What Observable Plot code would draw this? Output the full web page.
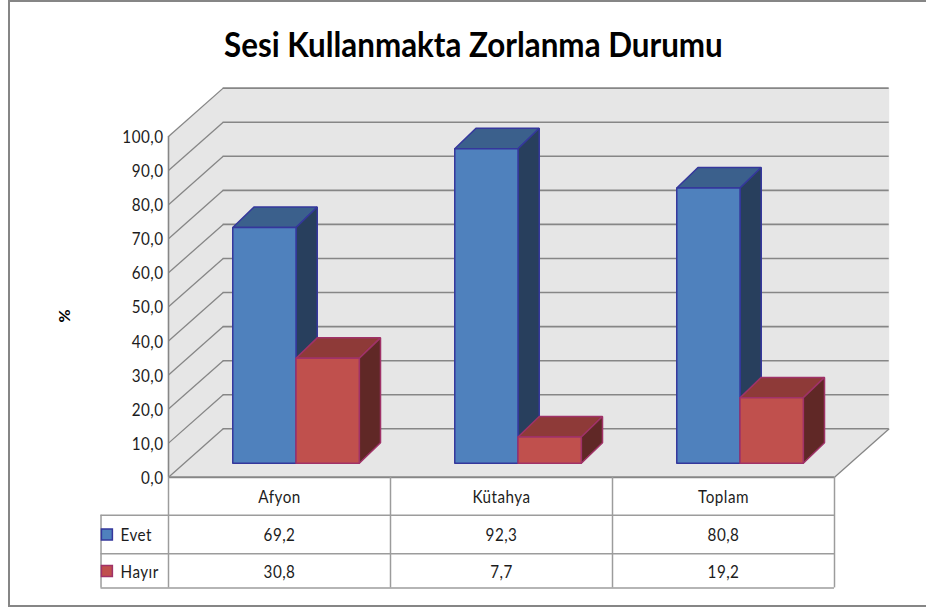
<!DOCTYPE html>
<html lang="tr">
<head>
<meta charset="utf-8">
<script src="https://cdn.jsdelivr.net/npm/d3@7"></script>
<script src="https://cdn.jsdelivr.net/npm/@observablehq/plot@0.6"></script>
<style>
  html, body { margin: 0; padding: 0; background: #fff; }
  #frame { position: absolute; left: 8px; top: 0; width: 918px; height: 607px;
           border-top: 2px solid #868686; border-left: 2px solid #868686; border-bottom: 2px solid #868686; box-sizing: border-box; }
  #title { position: absolute; left: 0; top: 0; width: 926px; height: 60px; padding-top: 20px; padding-left: 20px; box-sizing: border-box; text-align: center;
           font: bold 34px Lato, sans-serif; color: #000; line-height: 48px; white-space: nowrap; }
  #title span { display: inline-block; transform: scaleX(0.922); }
  #chart { position: absolute; left: 0; top: 60px; }
  #chart svg { display: block; }
  #chart svg text { letter-spacing: 0.55px; }
</style>
</head>
<body>
<div id="frame"></div>
<div id="title"><span>Sesi Kullanmakta Zorlanma Durumu</span></div>
<div id="chart"></div>
<script>
const categories = ["Afyon", "Kütahya", "Toplam"];
const evet = [69.2, 92.3, 80.8];
const hayir = [30.8, 7.7, 19.2];
const seriesNames = ["Evet", "Hayır"];
const yTicks = [0, 10, 20, 30, 40, 50, 60, 70, 80, 90, 100];

const comma = (v) => v.toFixed(1).replace(".", ",");

// 3D geometry, in scale units
const wallDx = 0.2464, wallDy = 14.2;
const baseDx = 0.0745, baseDy = 4.1;
const barW = 0.285, barDx = 0.0955, barDy = 6;
const rowTop = [-11.2, -22.45, -32.5];
const legendLeft = -0.304;

const polys = [];
function poly(pts, fill, stroke) {
  const id = polys.length ? polys[polys.length - 1].id + 1 : 0;
  [...pts, pts[0]].forEach(([x, y]) => polys.push({ id, x, y, fill, stroke }));
}
const bluePal = { front: "#4f81bd", top: "#3b608c", side: "#283f5d", edge: "#35379c" };
const redPal = { front: "#c0504d", top: "#8e3a38", side: "#602826", edge: "#a03268" };

function bar(left, v, pal) {
  const x0 = left, x1 = left + barW, y0 = baseDy, y1 = baseDy + v;
  poly([[x0, y1], [x1, y1], [x1 + barDx, y1 + barDy], [x0 + barDx, y1 + barDy]], pal.top, pal.edge);
  poly([[x1, y0], [x1, y1], [x1 + barDx, y1 + barDy], [x1 + barDx, y0 + barDy]], pal.side, pal.edge);
  poly([[x0, y0], [x1, y0], [x1, y1], [x0, y1]], pal.front, pal.edge);
}
categories.forEach((c, i) => {
  const mid = i + 0.5 + baseDx;
  bar(mid - barW, evet[i], bluePal);
  bar(mid, hayir[i], redPal);
});

const wall = [[0, 0], [0, 100], [wallDx, 100 + wallDy], [3 + wallDx, 100 + wallDy], [3 + wallDx, wallDy], [3, 0]]
  .map(([x, y]) => ({ x, y }));

const gridC = "#868686", tableC = "#9c9c9c", textC = "#1c1c1c";
const font = { fontFamily: "Lato, sans-serif" };
const tableText = { fontSize: 17.5, fill: textC, ...font };
const colMid = categories.map((c, i) => i + 0.5);
const rowMid = [-6, -17.1, -27.8];

const plot = Plot.plot({
  width: 926, height: 547,
  marginTop: 76, marginBottom: 130.3, marginLeft: 168, marginRight: 92,
  x: { domain: [0, 3], axis: null },
  y: { domain: [0, 100] },
  color: { type: "identity" },
  style: { background: "transparent", overflow: "visible" },
  marks: [
    Plot.line(wall, { x: "x", y: "y", fill: "#e6e6e6", stroke: "none" }),
    Plot.ruleY(yTicks, { y: (v) => v + wallDy, x1: wallDx, x2: 3 + wallDx, stroke: gridC, strokeWidth: 1.6 }),
    Plot.link(yTicks, { x1: 0, y1: (v) => v, x2: wallDx, y2: (v) => v + wallDy, stroke: gridC, strokeWidth: 1.3 }),
    Plot.link([0], { x1: 3, y1: 0, x2: 3 + wallDx, y2: wallDy, stroke: gridC, strokeWidth: 1.3 }),
    Plot.ruleX([0], { y1: 0, y2: 100, stroke: gridC, strokeWidth: 1.6 }),
    Plot.line(polys, { x: "x", y: "y", z: "id", fill: "fill", stroke: "stroke", strokeWidth: 1.5, strokeLinejoin: "miter", curve: "linear" }),

    Plot.ruleY([0], { x1: 0, x2: 3, stroke: gridC, strokeWidth: 2 }),
    Plot.ruleY(rowTop, { x1: legendLeft, x2: 3, stroke: tableC, strokeWidth: 1.5 }),
    Plot.ruleX([0, 1, 2, 3], { y1: 0, y2: rowTop[2], stroke: tableC, strokeWidth: 1.5 }),
    Plot.ruleX([legendLeft], { y1: rowTop[0], y2: rowTop[2], stroke: tableC, strokeWidth: 1.5 }),

    Plot.axisY({ ticks: yTicks, tickSize: 0, tickPadding: 5, tickFormat: comma, label: null, fontSize: 17.5, fill: textC, dy: 1, ...font }),
    Plot.text(["%"], { x: -0.468, y: 47.4, rotate: -90, fontSize: 16, fontWeight: "bold", fill: "#000", ...font }),

    Plot.text(categories, { x: (d, i) => colMid[i], y: rowMid[0], ...tableText }),
    Plot.text(evet, { x: (d, i) => colMid[i], y: rowMid[1], text: comma, ...tableText }),
    Plot.text(hayir, { x: (d, i) => colMid[i], y: rowMid[2], text: comma, ...tableText }),

    Plot.dot(seriesNames, { x: -0.2775, y: (d, i) => rowMid[i + 1] + 0.3, symbol: "square", r: 6.2, strokeWidth: 1.5,
      fill: (d, i) => [bluePal.front, redPal.front][i], stroke: (d, i) => [bluePal.edge, redPal.edge][i] }),
    Plot.text(seriesNames, { x: -0.216, y: (d, i) => rowMid[i + 1], textAnchor: "start", ...tableText })
  ]
});
// the reference's labels are narrow: condense each one about its own anchor
plot.querySelectorAll("text").forEach((t) => {
  if (t.textContent !== "%") t.setAttribute("transform", (t.getAttribute("transform") || "") + " scale(0.87,1)");
});
document.getElementById("chart").appendChild(plot);
</script>
</body>
</html>
